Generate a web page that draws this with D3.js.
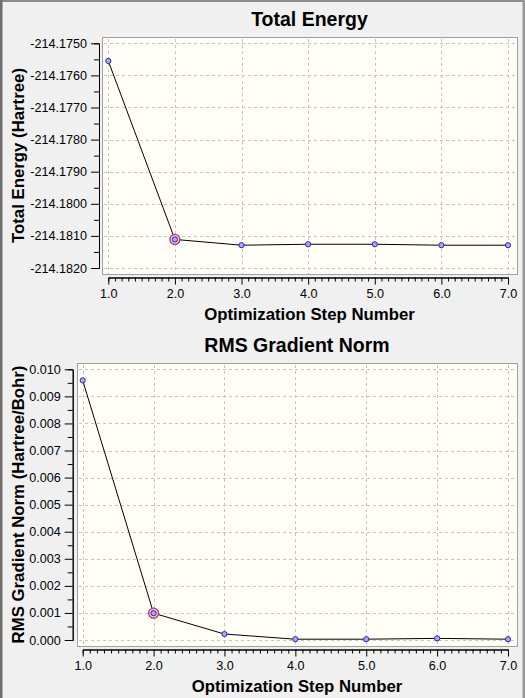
<html>
<head>
<script src="https://d3js.org/d3.v7.min.js"></script>
<style>
body { margin: 0; background: #f0f0f0; }
svg { display: block; font-family: "Liberation Sans", Arial, sans-serif; }
.grid line { stroke: #c4c4c4; stroke-dasharray: 3,3; }
</style>
</head>
<body>
<svg width=525 height=698></svg>
<script>
// values
var steps = [1, 2, 3, 4, 5, 6, 7];
var energy = [-214.17555, -214.18111, -214.18129, -214.18126, -214.18126, -214.18129, -214.18129];
var rmsGrad = [0.00959, 0.00099, 0.00022, 0.00003, 0.00003, 0.00006, 0.00003];
var stepTicks = [1, 2, 3, 4, 5, 6, 7];
var energyTicks = [-214.1750, -214.1760, -214.1770, -214.1780, -214.1790, -214.1800, -214.1810, -214.1820];
var gradTicks = [0.000, 0.001, 0.002, 0.003, 0.004, 0.005, 0.006, 0.007, 0.008, 0.009, 0.010];
var selected = 2;

var svg = d3.select("svg");

// window frame
svg.append("rect").attr("x", 0).attr("y", 0).attr("width", 525).attr("height", 698).attr("fill", "#f0f0f0");
svg.append("rect").attr("x", 0).attr("y", 0).attr("width", 525).attr("height", 2).attr("fill", "#8c8c8c");
svg.append("rect").attr("x", 0).attr("y", 0).attr("width", 2.5).attr("height", 698).attr("fill", "#6f6f6f");
svg.append("rect").attr("x", 522.5).attr("y", 0).attr("width", 2.5).attr("height", 698).attr("fill", "#9a9a9a");

function halfSteps(ticks) {
  var out = [];
  for (var i = 0; i < ticks.length - 1; i++) out.push((ticks[i] + ticks[i + 1]) / 2);
  return out;
}
function tenthSteps(ticks) {
  var out = [];
  for (var i = 0; i < ticks.length - 1; i++)
    for (var k = 1; k < 10; k++) out.push(ticks[i] + k / 10);
  return out;
}

function drawChart(o) {
  var x = d3.scaleLinear().domain([1, 7]).range(o.xr);
  var y = d3.scaleLinear().domain(o.yd).range(o.yr);
  var g = svg.append("g");

  // plot box
  g.append("rect")
    .attr("x", o.box[0] + 0.5).attr("y", o.box[1] + 0.5)
    .attr("width", o.box[2] - o.box[0]).attr("height", o.box[3] - o.box[1])
    .attr("fill", "#fffff7").attr("stroke", "#a0a0a0");

  // grid
  var grid = g.append("g").attr("class", "grid");
  grid.selectAll(".gx").data(o.xticks).enter().append("line")
    .attr("x1", d => Math.round(x(d)) + 0.5).attr("x2", d => Math.round(x(d)) + 0.5)
    .attr("y1", o.box[1] + 2).attr("y2", o.box[3]);
  grid.selectAll(".gy").data(o.yticks).enter().append("line")
    .attr("y1", d => Math.round(y(d)) + 0.5).attr("y2", d => Math.round(y(d)) + 0.5)
    .attr("x1", o.box[0] + 2).attr("x2", o.box[2]);

  // y axis
  g.append("g").attr("transform", "translate(" + o.yaxisX + ",0)")
    .call(d3.axisLeft(y).tickValues(halfSteps(o.yticks)).tickSize(5).tickFormat(""));
  g.append("g").attr("transform", "translate(" + o.yaxisX + ",0)")
    .call(d3.axisLeft(y).tickValues(o.yticks).tickSize(8).tickSizeOuter(0).tickPadding(4).tickFormat(o.yfmt))
    .attr("font-size", 12.6).attr("font-family", null);

  // x axis
  g.append("g").attr("transform", "translate(0," + o.xaxisY + ")")
    .call(d3.axisBottom(x).tickValues(tenthSteps(o.xticks)).tickSize(4).tickFormat(""));
  g.append("g").attr("transform", "translate(0," + o.xaxisY + ")")
    .call(d3.axisBottom(x).tickValues(o.xticks).tickSize(7).tickSizeOuter(0).tickPadding(5).tickFormat(d => d.toFixed(1)))
    .attr("font-size", 12.6).attr("font-family", null);

  g.selectAll(".domain").attr("stroke", "#000");

  // line and markers
  var pts = steps.map((s, i) => [s, o.values[i]]);
  g.append("path").datum(pts)
    .attr("fill", "none").attr("stroke", "#000").attr("stroke-width", 1)
    .attr("d", d3.line().x(d => x(d[0])).y(d => y(d[1])));
  g.selectAll(".sel").data(pts.filter(d => d[0] === selected)).enter().append("circle")
    .attr("cx", d => x(d[0])).attr("cy", d => y(d[1])).attr("r", 5)
    .attr("fill", "#f4c8d8").attr("stroke", "#c0305a").attr("stroke-width", 1.3);
  g.selectAll(".pt").data(pts).enter().append("circle")
    .attr("cx", d => x(d[0])).attr("cy", d => y(d[1])).attr("r", 2.6)
    .attr("fill", "#a8a8f0").attr("stroke", "#2828b8").attr("stroke-width", 1);

  // texts
  var cx = (o.box[0] + o.box[2]) / 2, cy = (o.box[1] + o.box[3]) / 2;
  g.append("text").attr("x", cx).attr("y", o.titleY).attr("text-anchor", "middle")
    .attr("font-size", 19.5).attr("font-weight", "bold").text(o.title);
  g.append("text").attr("x", cx).attr("y", o.xlabelY).attr("text-anchor", "middle")
    .attr("font-size", 16.8).attr("font-weight", "bold").text("Optimization Step Number");
  g.append("text").attr("transform", "translate(24," + cy + ") rotate(-90)").attr("text-anchor", "middle")
    .attr("font-size", 16.8).attr("font-weight", "bold").text(o.ylabel);
}

drawChart({
  title: "Total Energy", ylabel: "Total Energy (Hartree)", values: energy,
  xr: [108.3, 508], yd: [-214.1820, -214.1750], yr: [268, 43.3],
  box: [102, 37, 517, 274], yaxisX: 99, xaxisY: 277.5,
  xticks: stepTicks, yticks: energyTicks, yfmt: d => d.toFixed(4),
  titleY: 26, xlabelY: 320
});

drawChart({
  title: "RMS Gradient Norm", ylabel: "RMS Gradient Norm (Hartree/Bohr)", values: rmsGrad,
  xr: [82.7, 508], yd: [0, 0.010], yr: [640, 369.3],
  box: [77, 363, 517, 646], yaxisX: 72.7, xaxisY: 649.5,
  xticks: stepTicks, yticks: gradTicks, yfmt: d => d.toFixed(3),
  titleY: 352, xlabelY: 692
});
</script>
</body>
</html>
